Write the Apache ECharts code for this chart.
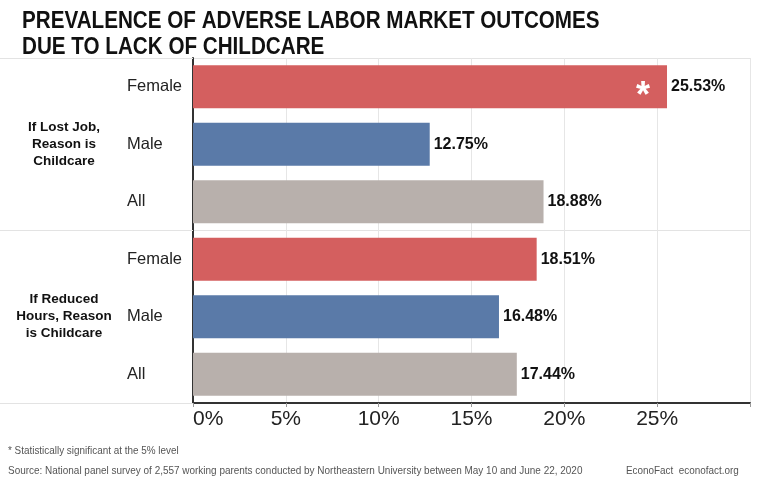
<!DOCTYPE html>
<html>
<head>
<meta charset="utf-8">
<script src="https://cdn.jsdelivr.net/npm/echarts@6/dist/echarts.min.js"></script>
<style>html,body{margin:0;padding:0;background:#fff}#c{width:768px;height:499px}</style>
</head>
<body>
<div id="c"></div>
<script>
const titleLines = 'PREVALENCE OF ADVERSE LABOR MARKET OUTCOMES\nDUE TO LACK OF CHILDCARE';
const categories = ['Female', 'Male', 'All', 'Female', 'Male', 'All'];
const groups = ['If Lost Job,\nReason is\nChildcare', 'If Reduced\nHours, Reason\nis Childcare'];
const values = [25.53, 12.75, 18.88, 18.51, 16.48, 17.44];
const significant = [true, false, false, false, false, false];
const xTicks = [0, 5, 10, 15, 20, 25, 30];
const colors = {Female: '#d45f5f', Male: '#5a7aa8', All: '#b8b0ac'};
const noteText = '* Statistically significant at the 5% level';
const sourceText = 'Source: National panel survey of 2,557 working parents conducted by Northeastern University between May 10 and June 22, 2020';
const brandText = 'EconoFact  econofact.org';

const sans = '"Liberation Sans", Arial, sans-serif';

const chart = echarts.init(document.getElementById('c'));
chart.setOption({
  backgroundColor: '#fff',
  animation: false,
  grid: {left: 193, right: 18, top: 58, bottom: 96},
  xAxis: {
    type: 'value', min: xTicks[0], max: xTicks[xTicks.length - 1], interval: 5,
    axisLine: {show: true, lineStyle: {color: '#333', width: 2}},
    axisTick: {show: true, length: 4, lineStyle: {color: '#999'}},
    splitLine: {show: true, lineStyle: {color: '#e6e6e6', width: 1}},
    axisLabel: {
      fontFamily: sans, fontSize: 21, color: '#222', margin: 6, alignMinLabel: 'left',
      formatter: v => v === 30 ? '' : v + '%'
    }
  },
  yAxis: [{
    type: 'category', data: categories, inverse: true,
    axisLine: {show: true, lineStyle: {color: '#333', width: 2}},
    axisTick: {show: false},
    axisLabel: {fontFamily: sans, fontSize: 16.5, color: '#222', align: 'left', margin: 66}
  }, {
    type: 'category', data: groups, inverse: true, position: 'left',
    axisLine: {show: false},
    axisTick: {show: true, length: 193, lineStyle: {color: '#e3e3e3', width: 1}},
    splitLine: {show: true, lineStyle: {color: '#e3e3e3', width: 1}},
    axisLabel: {fontFamily: sans, fontSize: 13.5, fontWeight: 'bold', color: '#111', align: 'center', margin: 129, lineHeight: 17}
  }],
  series: [{
    type: 'bar',
    yAxisIndex: 0,
    barCategoryGap: '25%',
    data: values.map((v, i) => ({value: v, itemStyle: {color: colors[categories[i]]}})),
    label: {
      show: true, position: 'right', distance: 4,
      fontFamily: sans, fontWeight: 'bold', fontSize: 16, color: '#111',
      formatter: p => p.value.toFixed(2) + '%'
    },
    markPoint: {
      symbol: 'circle', symbolSize: 1, itemStyle: {color: 'rgba(0,0,0,0)'},
      label: {show: true, formatter: '*', color: '#fff', fontFamily: sans, fontWeight: 'bold', fontSize: 36, offset: [-24, 10]},
      data: values.map((v, i) => significant[i] ? {coord: [v, i]} : null).filter(Boolean)
    }
  }],
  graphic: [{
    type: 'text', x: 22, y: 8.5, scaleX: 0.86,
    style: {text: titleLines, font: 'bold 24px ' + sans, lineHeight: 26, fill: '#111'}
  }, {
    type: 'text', x: 8, y: 445, scaleX: 0.9,
    style: {text: noteText, font: '11px ' + sans, fill: '#555'}
  }, {
    type: 'text', x: 8, y: 465, scaleX: 0.905,
    style: {text: sourceText, font: '11px ' + sans, fill: '#555'}
  }, {
    type: 'text', x: 626, y: 465, scaleX: 0.9,
    style: {text: brandText, font: '11px ' + sans, fill: '#555'}
  }]
});
</script>
</body>
</html>
